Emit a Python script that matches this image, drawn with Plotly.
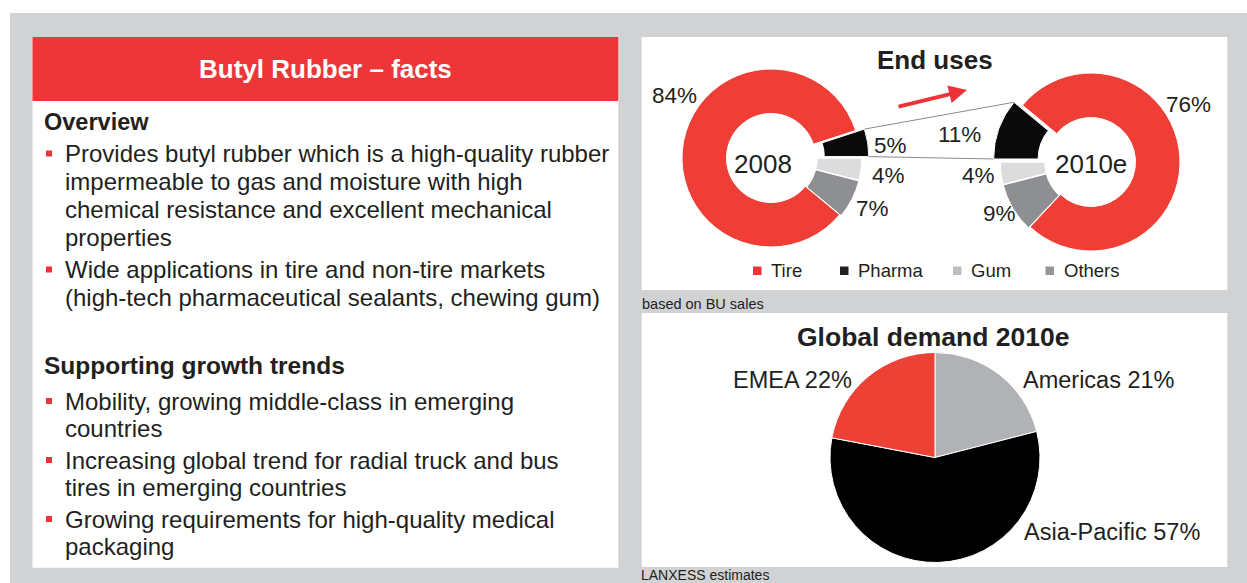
import math
import plotly.graph_objects as go

W, H = 1247, 583

# ---------------- data ----------------
end_use_categories = ["Pharma", "Gum", "Others", "Tire"]
end_use_2008 = [5, 4, 7, 84]
end_use_2010e = [11, 4, 9, 76]
donut_years = ["2008", "2010e"]

region_labels = ["Americas", "Asia-Pacific", "EMEA"]
region_share_2010e = [21, 57, 22]

panel_title = "Butyl Rubber \u2013 facts"
overview_heading = "Overview"
overview_bullets = [
    ["Provides butyl rubber which is a high-quality rubber",
     "impermeable to gas and moisture with high",
     "chemical resistance and excellent mechanical",
     "properties"],
    ["Wide applications in tire and non-tire markets",
     "(high-tech pharmaceutical sealants, chewing gum)"],
]
trends_heading = "Supporting growth trends"
trend_bullets = [
    ["Mobility, growing middle-class in emerging", "countries"],
    ["Increasing global trend for radial truck and bus", "tires in emerging countries"],
    ["Growing requirements for high-quality medical", "packaging"],
]
end_uses_title = "End uses"
demand_title = "Global demand 2010e"
source_top = "based on BU sales"
source_bottom = "LANXESS estimates"

# ---------------- style ----------------
FONT = "Liberation Sans, Arial, Helvetica, sans-serif"
TXT = "#231f20"
GRAY_BG = "#d1d2d4"
RED_HEAD = "#ee3639"
end_use_colors = {"Tire": "#ef3e36", "Pharma": "#0a0a0a", "Gum": "#dcdcdd", "Others": "#8e8f92"}
legend_colors = {"Tire": "#ee3338", "Pharma": "#231f20", "Gum": "#bcbdc0", "Others": "#939598"}
region_colors = {"Americas": "#b1b2b5", "Asia-Pacific": "#000000", "EMEA": "#ee4136"}


def px(x):
    return x / W


def py(y):
    return 1 - y / H


fig = go.Figure()
shapes = []
annotations = []


def rect(x0, y0, x1, y1, color, layer="below"):
    shapes.append(dict(type="rect", xref="paper", yref="paper",
                       x0=px(x0), x1=px(x1), y0=py(y1), y1=py(y0),
                       fillcolor=color, line=dict(width=0), layer=layer))


def text(x, y, s, size, bold=False, color=TXT, xanchor="left"):
    if bold:
        s = "<b>" + s + "</b>"
    annotations.append(dict(x=px(x), y=py(y), xref="paper", yref="paper",
                            text=s, showarrow=False, xanchor=xanchor, yanchor="middle",
                            font=dict(family=FONT, size=size, color=color),
                            borderpad=0, borderwidth=0))


# backgrounds
rect(10, 13, W, H, GRAY_BG)
rect(32.5, 37, 618.3, 567.7, "white")
rect(32.5, 37, 618.3, 101, RED_HEAD)
rect(641.7, 37, 1227.3, 290, "white")
rect(641.7, 313, 1227.3, 567, "white")

# ---------------- left text panel ----------------
text(325.5, 69.2, panel_title, 26, bold=True, color="white", xanchor="center")
text(44, 121.7, overview_heading, 23.5, bold=True)


def bullets(blocks, starts, spacing):
    for lines, y0 in zip(blocks, starts):
        shapes.append(dict(type="rect", xref="paper", yref="paper",
                           x0=px(46), x1=px(52), y0=py(y0 + 3), y1=py(y0 - 3),
                           fillcolor="#ee3338", line=dict(width=0), layer="above"))
        for i, ln in enumerate(lines):
            text(65, y0 + i * spacing, ln, 24)


bullets(overview_bullets, [153.5, 269.5], 28.0)
text(44, 365, trends_heading, 24.5, bold=True)
bullets(trend_bullets, [401, 460, 519], 27.5)

# ---------------- End uses donuts ----------------
text(934.5, 59.7, end_uses_title, 26, bold=True, xanchor="center")

R = 89.0
PULLS = [0.1, 0.02, 0.02, 0.0]
maxpull = max(PULLS)
donut_centers = [(771.0, 158.0), (1091.0, 162.0)]
pharma_idx = end_use_categories.index("Pharma")
rot_2008 = 90 - end_use_2008[pharma_idx] * 3.6   # pharma ends at 3 o'clock
rot_2010 = 270                                   # pharma starts at 9 o'clock going up
donut_specs = [(end_use_2008, "clockwise", rot_2008), (end_use_2010e, "counterclockwise", rot_2010)]

for (cx, cy), (vals, direction, rot), yr in zip(donut_centers, donut_specs, donut_years):
    half = R * (1 + maxpull)
    fig.add_trace(go.Pie(
        labels=end_use_categories, values=vals, sort=False, direction=direction,
        rotation=rot, hole=0.5, pull=PULLS, textinfo="none", hoverinfo="label+percent",
        marker=dict(colors=[end_use_colors[c] for c in end_use_categories],
                    line=dict(color="white", width=1)),
        domain=dict(x=[px(cx - half), px(cx + half)], y=[py(cy + half), py(cy - half)]),
        showlegend=False, name=yr))


# connector lines between the two pharma slices (computed from slice geometry)
def slice_corner(center, start_deg, span_deg, pull, which_deg):
    cx, cy = center
    mid = math.radians(start_deg + span_deg / 2)
    ox, oy = pull * R * math.sin(mid), -pull * R * math.cos(mid)
    a = math.radians(which_deg)
    return cx + R * math.sin(a) + ox, cy - R * math.cos(a) + oy


span08 = end_use_2008[pharma_idx] * 3.6
span10 = end_use_2010e[pharma_idx] * 3.6
p_top_l = slice_corner(donut_centers[0], rot_2008, span08, PULLS[0], rot_2008)
p_bot_l = slice_corner(donut_centers[0], rot_2008, span08, PULLS[0], rot_2008 + span08)
p_top_r = slice_corner(donut_centers[1], rot_2010, span10, PULLS[0], rot_2010 + span10)
p_bot_r = slice_corner(donut_centers[1], rot_2010, span10, PULLS[0], rot_2010)
for a, b in [(p_top_l, p_top_r), (p_bot_l, p_bot_r)]:
    shapes.append(dict(type="line", xref="paper", yref="paper",
                       x0=px(a[0]), y0=py(a[1]), x1=px(b[0]), y1=py(b[1]),
                       line=dict(color="#8a8a8a", width=1), layer="above"))

# donut centre labels
text(763, 164, donut_years[0], 26, xanchor="center")
text(1091, 164, donut_years[1], 26, xanchor="center")

# percentage labels
idx = {c: i for i, c in enumerate(end_use_categories)}
lab08 = {"Tire": (674, 95), "Pharma": (890, 145), "Gum": (888, 176), "Others": (872, 208)}
lab10 = {"Tire": (1188, 104), "Pharma": (959, 134), "Gum": (979, 176), "Others": (999, 214)}
for c, (x, y) in lab08.items():
    text(x, y, f"{end_use_2008[idx[c]]}%", 22.5, xanchor="center")
for c, (x, y) in lab10.items():
    text(x, y, f"{end_use_2010e[idx[c]]}%", 22.5, xanchor="center")

# red growth arrow
annotations.append(dict(x=px(967), y=py(90), xref="paper", yref="paper", text="",
                        showarrow=True, ax=897 - 967, ay=107 - 90, axref="pixel", ayref="pixel",
                        arrowhead=2, arrowsize=0.9, arrowwidth=4, arrowcolor="#ee3338", standoff=0))

# legend
legend_order = ["Tire", "Pharma", "Gum", "Others"]
legend_sq_x = [753, 840, 953, 1045.5]
for c, x in zip(legend_order, legend_sq_x):
    shapes.append(dict(type="rect", xref="paper", yref="paper",
                       x0=px(x), x1=px(x + 8.5), y0=py(275), y1=py(266.5),
                       fillcolor=legend_colors[c], line=dict(width=0), layer="above"))
    text(x + 18, 270.7, c, 18.5)

text(641.5, 304, source_top, 14.5)

# ---------------- Global demand pie ----------------
text(933, 336.7, demand_title, 26.5, bold=True, xanchor="center")
pcx, pcy, pr = 935.0, 457.5, 105.0
fig.add_trace(go.Pie(
    labels=region_labels, values=region_share_2010e, sort=False, direction="clockwise",
    rotation=0, textinfo="none", hoverinfo="label+percent",
    marker=dict(colors=[region_colors[c] for c in region_labels], line=dict(color="white", width=1)),
    domain=dict(x=[px(pcx - pr), px(pcx + pr)], y=[py(pcy + pr), py(pcy - pr)]),
    showlegend=False, name=demand_title))

region_label_pos = {"EMEA": (792, 379.5), "Americas": (1099, 379.5), "Asia-Pacific": (1111.7, 531.7)}
for c, v in zip(region_labels, region_share_2010e):
    x, y = region_label_pos[c]
    text(x, y, f"{c} {v}%", 23.5, xanchor="center")

text(641, 575.2, source_bottom, 14)

fig.update_layout(
    width=W, height=H, margin=dict(l=0, r=0, t=0, b=0),
    paper_bgcolor="white", plot_bgcolor="white",
    shapes=shapes, annotations=annotations, showlegend=False,
    font=dict(family=FONT, color=TXT),
)

fig.write_html("out.html", config={"displayModeBar": False},
               post_script="document.body.style.margin='0';document.body.style.overflow='hidden';")
